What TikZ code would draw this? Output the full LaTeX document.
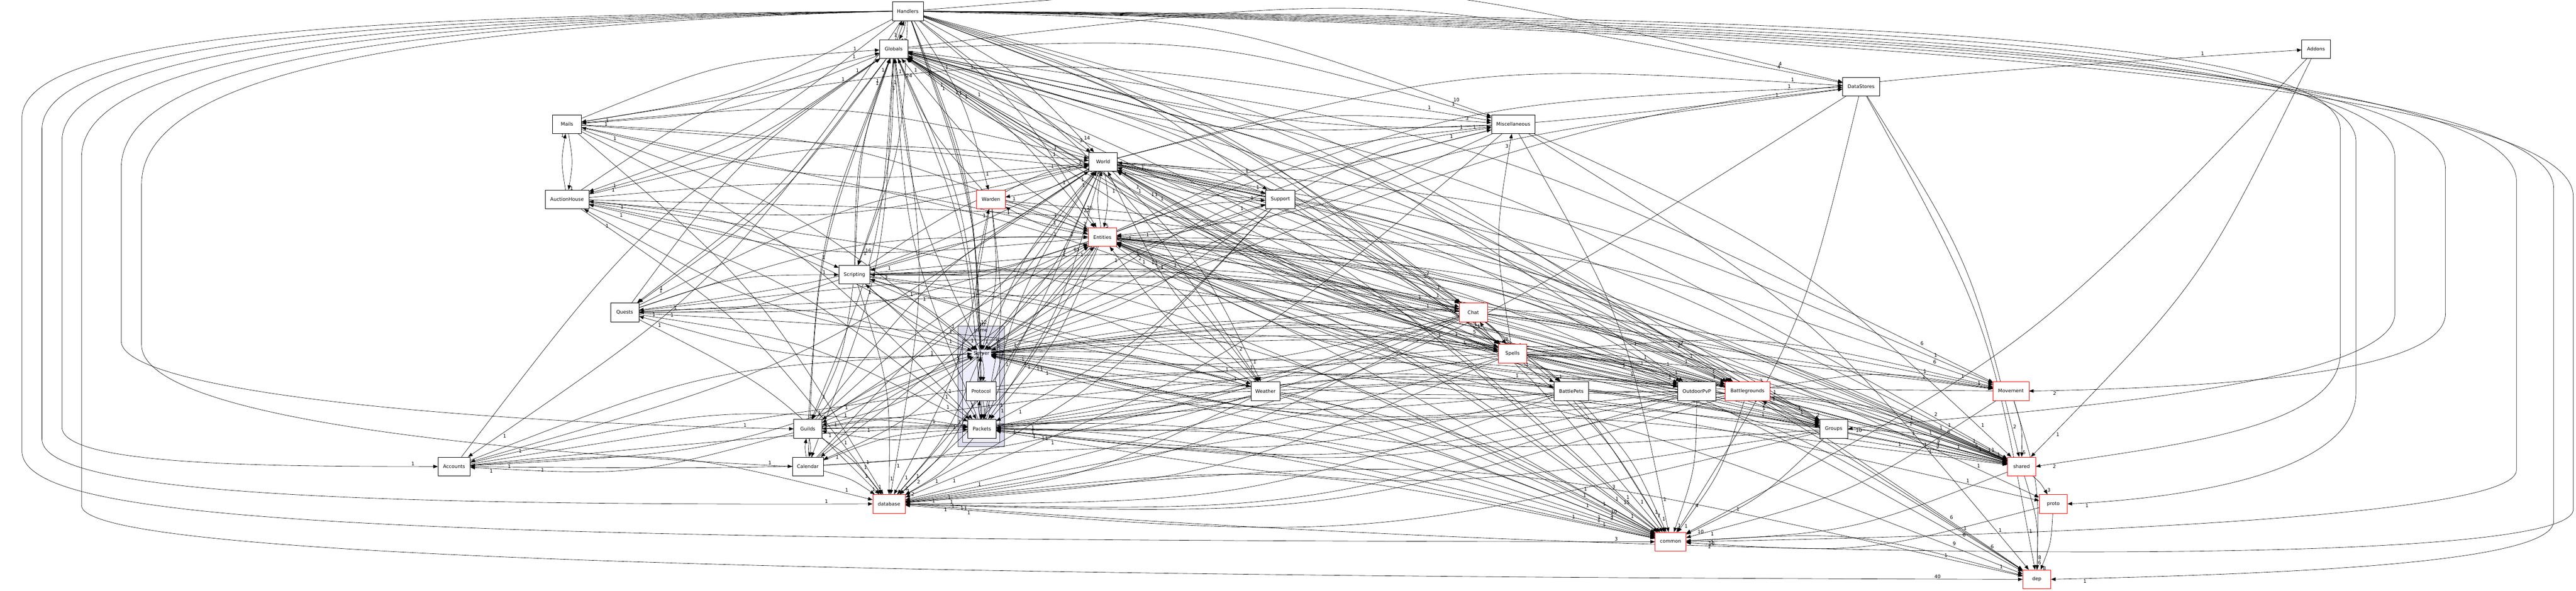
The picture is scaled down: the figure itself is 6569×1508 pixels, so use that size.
\documentclass[tikz,border=0pt]{standalone}
\usepackage{fontspec}
\setmainfont{DejaVu Sans}
\usetikzlibrary{arrows.meta,calc}
\pgfdeclarelayer{back}
\pgfdeclarelayer{edges}
\pgfsetlayers{back,edges,main}
\definecolor{gamefill}{HTML}{DDDDEE}
\definecolor{srvfill}{HTML}{EEEEFF}
\begin{document}
\begin{tikzpicture}[x=0.01cm, y=-0.01cm,
  dir/.style={draw=black, line width=0.28pt, fill=white, minimum height=0.48cm, inner sep=0.5pt, font=\fontsize{3.5}{4}\selectfont},
  reddir/.style={dir, draw=red},
  edge/.style={line width=0.23pt, -{Triangle[length=3.3pt,width=2.5pt]}},
  lab/.style={font=\fontsize{3.5}{4}\selectfont, inner sep=0.5pt},
  plain/.style={font=\fontsize{3.5}{4}\selectfont, inner sep=1pt}]
\useasboundingbox (0,0) rectangle (6569,1508);
\begin{pgfonlayer}{back}
  \fill[white] (0,0) rectangle (6569,1508);
  \draw[fill=gamefill, draw=black!70, line width=0.28pt] (2443.4,832) rectangle (2560.6,1139.6);
  \draw[fill=srvfill, draw=black!70, line width=0.28pt] (2454,867.5) rectangle (2549.4,1129);
\end{pgfonlayer}
\node[plain] (GM) at (2501,845) {game};
\node[plain] (SV) at (2503,901.7) {Server};
\node[dir, minimum width=0.785cm] (H) at (2315,28.6) {Handlers};
\node[dir, minimum width=0.715cm] (G) at (2279,125) {Globals};
\node[dir, minimum width=0.94cm] (DS) at (4746,221) {DataStores};
\node[dir, minimum width=0.725cm] (AD) at (5906,125) {Addons};
\node[dir, minimum width=0.73cm] (ML) at (1446,317) {Mails};
\node[dir, minimum width=1.11cm] (MI) at (3859,317) {Miscellaneous};
\node[dir, minimum width=0.725cm] (W) at (2813,413) {World};
\node[dir, minimum width=1.11cm] (AH) at (1446,509) {AuctionHouse};
\node[reddir, minimum width=0.725cm] (WA) at (2527,509) {Warden};
\node[dir, minimum width=0.75cm] (SU) at (3265,509) {Support};
\node[reddir, minimum width=0.72cm] (E) at (2811,605) {Entities};
\node[dir, minimum width=0.795cm] (SC) at (2179,701) {Scripting};
\node[dir, minimum width=0.725cm] (Q) at (1593,797) {Quests};
\node[reddir, minimum width=0.715cm] (CH) at (3757,797) {Chat};
\node[reddir, minimum width=0.725cm] (SP) at (3857,902.5) {Spells};
\node[dir, minimum width=0.75cm] (PR) at (2502,998) {Protocol};
\node[dir, minimum width=0.745cm] (WE) at (3227,998) {Weather};
\node[dir, minimum width=0.875cm] (BP) at (4007,998) {BattlePets};
\node[dir, minimum width=0.97cm] (OP) at (4327,998) {OutdoorPvP};
\node[reddir, minimum width=1.135cm] (BG) at (4456,998) {Battlegrounds};
\node[reddir, minimum width=0.91cm] (MV) at (5128,998) {Movement};
\node[dir, minimum width=0.715cm] (PK) at (2504,1094) {Packets};
\node[dir, minimum width=0.715cm] (GU) at (2060,1094.5) {Guilds};
\node[dir, minimum width=0.715cm] (GR) at (4676,1094.5) {Groups};
\node[dir, minimum width=0.82cm] (AC) at (1158,1190.6) {Accounts};
\node[dir, minimum width=0.785cm] (CA) at (2060,1190.6) {Calendar};
\node[reddir, minimum width=0.72cm] (SH) at (5155,1190.6) {shared};
\node[reddir, minimum width=0.825cm] (DB) at (2267,1286) {database};
\node[reddir, minimum width=0.715cm] (PT) at (5236,1286) {proto};
\node[reddir, minimum width=0.785cm] (CO) at (4260,1382.5) {common};
\node[reddir, minimum width=0.715cm] (DP) at (5194,1478.5) {dep};
\begin{pgfonlayer}{edges}
\foreach \sa/\sb/\sn in {
 H/G/43, H/W/14, H/DS/4, H/ML/1, H/MI/10, H/AH/1, H/WA/1, H/SU/1, H/E/25, H/SC/16, H/CH/2, H/Q/1, H/SV/12, H/SP/31, H/PR/7, H/PK/19, H/WE/2, H/BP/1, H/OP/1, H/BG/2,
 G/H/1, G/DS/4, G/MI/1, G/W/3, G/E/22, G/SC/1, G/SV/10, G/PK/1, G/GU/1, G/GR/3, G/SH/2, G/DB/1, G/CO/3, G/DP/6, G/SP/2, G/Q/1, G/CH/1, G/AC/1, G/CA/1, G/MV/6, G/BG/2, G/AH/1, G/ML/1,
 DS/G/1, DS/CO/4, DS/SH/2, DS/DB/1, DS/DP/1,
 AD/SH/1, AD/CO/1,
 ML/AH/1, ML/E/1, ML/W/1, ML/G/1, ML/SV/1, ML/PK/1, ML/DB/1, ML/CO/1, ML/SH/1, ML/MI/1,
 MI/W/1, MI/E/1, MI/G/1, MI/DB/1, MI/CO/1, MI/SH/1, MI/DP/1,
 W/E/5, W/WA/1, W/SU/1, W/G/1, W/MI/3, W/DS/1, W/SV/9, W/PK/1, W/SC/1, W/CH/1, W/SP/1, W/DB/1, W/CO/1, W/SH/1, W/DP/1, W/BG/1, W/OP/1, W/MV/1, W/GU/1, W/GR/1, W/WE/1, W/AC/1, W/CA/1, W/ML/1, W/AH/1, W/Q/1,
 AH/E/1, AH/W/1, AH/ML/1, AH/SC/1, AH/PK/1, AH/SV/1, AH/DB/1, AH/CO/1, AH/SH/1, AH/G/1,
 WA/E/2, WA/W/3, WA/SV/1, WA/PK/1, WA/DB/1, WA/CO/1, WA/SH/1, WA/G/1,
 SU/E/1, SU/W/1, SU/SV/1, SU/PK/1, SU/DB/1, SU/CO/1, SU/G/1, SU/MI/1,
 E/W/10, E/G/24, E/MI/1, E/DS/1, E/SC/3, E/SV/5, E/PK/1, E/SP/5, E/CH/1, E/Q/1, E/BG/1, E/OP/1, E/MV/6, E/GU/1, E/GR/1, E/WE/1, E/BP/1, E/DB/2, E/CO/15, E/SH/6, E/DP/8, E/PT/1, E/AH/1, E/WA/1, E/SU/1,
 SC/E/2, SC/W/3, SC/G/1, SC/H/1, SC/SV/1, SC/PK/1, SC/SP/1, SC/CH/1, SC/Q/1, SC/DB/1, SC/CO/1, SC/SH/1, SC/BG/1, SC/OP/1, SC/WE/1, SC/GU/1, SC/GR/1,
 Q/E/1, Q/W/1, Q/G/1, Q/SC/1, Q/SV/1, Q/PK/1, Q/DB/1, Q/CO/1, Q/SH/1, Q/SP/1,
 CH/E/1, CH/W/1, CH/G/1, CH/SP/2, CH/SV/1, CH/PK/1, CH/DB/1, CH/CO/1, CH/SH/1, CH/GU/1, CH/GR/1, CH/BG/1, CH/AC/1,
 SV/PR/5, SV/G/1, SV/W/1, SV/E/61, SV/DB/2, SV/CO/10, SV/SH/5, SV/DP/9, SV/MI/1, SV/DS/1, SV/AD/1, SV/SC/1, SV/CH/1, SV/Q/1, SV/SP/1, SV/GU/1, SV/GR/1, SV/BG/1, SV/OP/1, SV/MV/1, SV/WE/1, SV/BP/1, SV/AC/1, SV/CA/1, SV/AH/1, SV/WA/1, SV/SU/1,
 SP/E/2, SP/W/1, SP/G/1, SP/CH/1, SP/SC/1, SP/SV/1, SP/PK/1, SP/BP/1, SP/BG/1, SP/OP/1, SP/MV/1, SP/GR/1, SP/DB/1, SP/CO/7, SP/SH/5, SP/DP/6, SP/MI/3,
 PR/PK/1, PR/SV/1, PR/DB/1, PR/CO/1, PR/SH/1,
 PK/PR/1, PK/SV/5, PK/E/1, PK/W/1, PK/G/1, PK/DB/2, PK/CO/3, PK/SH/2, PK/PT/1, PK/GU/1, PK/GR/1, PK/MV/1,
 WE/W/1, WE/E/1, WE/SV/1, WE/PK/1, WE/DB/1, WE/CO/1, WE/SH/1,
 BP/SV/1, BP/PK/1, BP/E/1, BP/DB/1, BP/CO/1, BP/SH/1,
 OP/E/1, OP/W/1, OP/SC/1, OP/SV/1, OP/PK/1, OP/DB/1, OP/CO/1, OP/SH/1, OP/G/1,
 BG/E/1, BG/W/1, BG/G/1, BG/GR/2, BG/SV/1, BG/PK/1, BG/DB/1, BG/CO/1, BG/SH/1, BG/MV/1,
 MV/SH/5, MV/DP/8, MV/CO/1, MV/E/1, MV/G/1,
 GU/CA/1, GU/AC/1, GU/E/1, GU/W/1, GU/G/1, GU/SV/1, GU/PK/1, GU/DB/1, GU/CO/1, GU/SH/1,
 GR/SH/1, GR/E/1, GR/W/1, GR/G/1, GR/BG/2, GR/SV/1, GR/PK/1, GR/DB/1, GR/CO/10,
 AC/G/1, AC/DB/1, AC/CO/1, AC/SH/1, AC/PK/1, AC/SV/1,
 CA/GU/1, CA/E/1, CA/G/1, CA/SV/1, CA/PK/1, CA/DB/1, CA/CO/1,
 SH/PT/3, SH/DP/6, SH/CO/1,
 DB/CO/1, DB/SH/1, DB/DP/1,
 PT/DP/8, PT/CO/1,
 CO/DP/1}
 { \coordinate (mm) at ($(\sa)!0.5!(\sb)$);
   \coordinate (cc) at ($(mm)!0.16!90:(\sb)$);
   \draw[edge] (\sa) .. controls (cc) .. node[lab,pos=0.95,auto] {\sn} (\sb); }
% long loops round the left side
\draw[edge] (H.west) .. controls (1000,40) and (60,80) .. (56,300) -- (56,1150) .. controls (56,1330) and (900,1380) .. node[lab,pos=0.99,above] {3} (CO.west);
\draw[edge] (H.west) .. controls (1000,45) and (110,100) .. (107,330) -- (107,1120) .. controls (107,1260) and (900,1290) .. node[lab,pos=0.97,above] {1} (DB.west);
\draw[edge] (H.west) .. controls (1000,50) and (160,120) .. (158,360) -- (158,1090) .. controls (158,1190) and (700,1190) .. node[lab,pos=0.95,above] {1} (AC.west);
\draw[edge] (H.west) .. controls (1000,55) and (210,140) .. (208,400) -- (208,1290) .. controls (208,1400) and (1500,1470) .. node[lab,pos=0.98,above] {40} (DP.west);
\draw[edge] (H.west) .. controls (1000,60) and (310,160) .. (309,430) -- (309,870) .. controls (309,1000) and (1200,1080) .. node[lab,pos=0.95,above] {1} (GU.west);
\draw[edge] (H.west) .. controls (1000,65) and (362,200) .. (361,470) -- (361,880) .. controls (361,1080) and (1400,1160) .. node[lab,pos=0.97,above] {1} (CA.west);
% long loops round the right side
\draw[edge] (H.east) .. controls (4500,40) and (5960,80) .. (5968,330) -- (5968,900) .. controls (5968,1100) and (5500,1140) .. node[lab,pos=0.95,below] {2} (SH.east);
\draw[edge] (H.east) .. controls (4500,45) and (6000,100) .. (6008,360) -- (6008,1000) .. controls (6008,1200) and (5600,1270) .. node[lab,pos=0.95,below] {1} (PT.east);
\draw[edge] (H.east) .. controls (4500,50) and (6100,120) .. (6107,400) -- (6107,800) .. controls (6107,1000) and (5000,1060) .. node[lab,pos=0.97,below] {10} (GR.east);
\draw[edge] (H.east) .. controls (4500,55) and (6230,140) .. (6236,430) -- (6236,800) .. controls (6236,960) and (5600,990) .. node[lab,pos=0.95,below] {2} (MV.east);
\draw[edge] (H.east) .. controls (4500,60) and (6410,160) .. (6417,460) -- (6417,1200) .. controls (6417,1330) and (5000,1370) .. node[lab,pos=0.97,below] {10} (CO.east);
\draw[edge] (H.east) .. controls (4500,65) and (6505,180) .. (6512,480) -- (6512,1330) .. controls (6512,1440) and (5800,1465) .. node[lab,pos=0.95,below] {1} (DP.east);
\draw[edge] (H.east) .. controls (4500,70) and (6555,200) .. (6562,500) -- (6562,1300) .. controls (6562,1470) and (4000,1420) .. node[lab,pos=0.98,below] {1} (DB.east);
\end{pgfonlayer}
\end{tikzpicture}
\end{document}
